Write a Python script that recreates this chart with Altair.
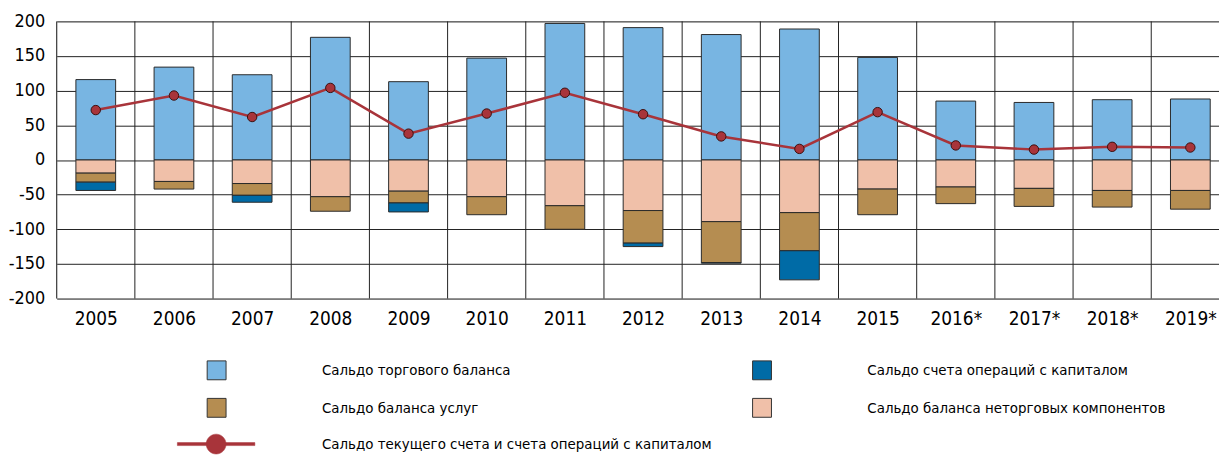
import altair as alt
import pandas as pd

years = list(range(2005, 2020))
trade = [116, 134, 123, 177, 113, 147, 197, 191, 181, 189, 148, 85, 83, 87, 88]
nontrade = [-19, -31, -34, -53, -45, -53, -66, -73, -89, -76, -42, -39, -41, -44, -44]
services = [-13, -11, -17, -21, -17, -26, -34, -47, -59, -55, -37, -24, -26, -24, -27]
capital = [-12, 0, -10, 0, -13, 0, 0, -5, -1, -42, 0, 0, 0, 0, 0]
current = [72, 93, 62, 104, 38, 67, 97, 66, 34, 16, 69, 21, 15, 19, 18]

S_TRADE = "Сальдо торгового баланса"
S_CAP = "Сальдо счета операций с капиталом"
S_SERV = "Сальдо баланса услуг"
S_NON = "Сальдо баланса неторговых компонентов"
S_LINE = "Сальдо текущего счета и счета операций с капиталом"

series_order = {S_TRADE: 0, S_NON: 1, S_SERV: 2, S_CAP: 3}
rows = []
for i, y in enumerate(years):
    for name, arr in [(S_TRADE, trade), (S_NON, nontrade), (S_SERV, services), (S_CAP, capital)]:
        rows.append({"year": y, "series": name, "value": arr[i], "ord": series_order[name]})
bars_df = pd.DataFrame(rows)
line_df = pd.DataFrame({"year": years, "value": current, "s": [S_LINE] * len(years)})

FONT = "'DejaVu Sans Condensed', 'Liberation Sans Narrow', Roboto, sans-serif"
STEP = 78.7
WIDTH = 1170
x_scale = alt.Scale(domain=[2004.5, 2004.5 + WIDTH / STEP], nice=False, zero=False, padding=0)
y_scale = alt.Scale(domain=[-200, 200], nice=False, padding=0)

x_axis = alt.Axis(values=years, grid=False, ticks=False, tickSize=0, domain=False, title=None,
                  labelExpr="datum.value > 2015 ? datum.value + '*' : '' + datum.value",
                  labelFontSize=19, labelPadding=11, labelColor="#000", labelFont=FONT)
y_axis = alt.Axis(values=list(range(-200, 201, 50)), grid=True, gridColor="#222", gridWidth=1,
                  ticks=False, tickSize=0, domain=False, title=None, labelFontSize=18,
                  labelExpr="'' + datum.value",
                  labelPadding=12, labelColor="#000", labelFont=FONT)

vgrid = alt.Chart(line_df).transform_calculate(b="datum.year - 0.5").mark_rule(
    color="#222", strokeWidth=1).encode(x=alt.X("b:Q", scale=x_scale, axis=x_axis))

bars = alt.Chart(bars_df).transform_filter("datum.value != 0").mark_bar(
    size=40, stroke="#2a2a2a", strokeWidth=1).encode(
    x=alt.X("year:Q", scale=x_scale, axis=x_axis),
    y=alt.Y("value:Q", stack="zero", scale=y_scale, axis=y_axis),
    color=alt.Color("series:N",
                    scale=alt.Scale(domain=[S_TRADE, S_SERV, S_CAP, S_NON],
                                    range=["#78b5e2", "#b58d51", "#006ba6", "#f0c0a9"]),
                    legend=alt.Legend(orient="none", legendX=151, legendY=341, direction="vertical",
                                      columns=2, columnPadding=240, rowPadding=14, padding=0,
                                      title=None, symbolType="square", symbolSize=361,
                                      symbolStrokeColor="#333", symbolStrokeWidth=1,
                                      labelOffset=96, labelFontSize=15, labelFont=FONT,
                                      labelColor="#000", labelLimit=600)),
    order=alt.Order("ord:Q", sort="ascending"),
)

LINE_COLOR = "#a8343a"
line = alt.Chart(line_df).mark_line(color=LINE_COLOR, strokeWidth=2.5).encode(
    x=alt.X("year:Q", scale=x_scale, axis=x_axis),
    y=alt.Y("value:Q", scale=y_scale, axis=y_axis),
)

sym_path = ("M-3.9,-0.15L-0.95,-0.15L-0.95,0.15L-3.9,0.15Z "
            "M0.95,-0.15L3.9,-0.15L3.9,0.15L0.95,0.15Z "
            "M1,0A1,1,0,1,1,-1,0A1,1,0,1,1,1,0Z")
points = alt.Chart(line_df).mark_circle(size=90, opacity=1, stroke="#3a1010", strokeWidth=1).encode(
    x=alt.X("year:Q", scale=x_scale, axis=x_axis),
    y=alt.Y("value:Q", scale=y_scale, axis=y_axis),
    fill=alt.Fill("s:N", scale=alt.Scale(domain=[S_LINE], range=[LINE_COLOR]),
                  legend=alt.Legend(orient="none", legendX=150, legendY=415, padding=0, title=None,
                                    symbolType=sym_path, symbolSize=400, symbolStrokeColor=LINE_COLOR,
                                    symbolStrokeWidth=0.5, symbolOpacity=1,
                                    labelOffset=96, labelFontSize=15, labelFont=FONT,
                                    labelColor="#000", labelLimit=800)),
)

chart = alt.layer(vgrid, bars, line, points).resolve_scale(color="independent").properties(
    width=WIDTH, height=279,
    autosize=alt.AutoSizeParams(type="none"),
    padding={"left": 49, "top": 12, "right": 0, "bottom": 156},
).configure_view(stroke=None).configure(font=FONT)

chart.save("out.html", embed_options={"renderer": "svg", "actions": False})
